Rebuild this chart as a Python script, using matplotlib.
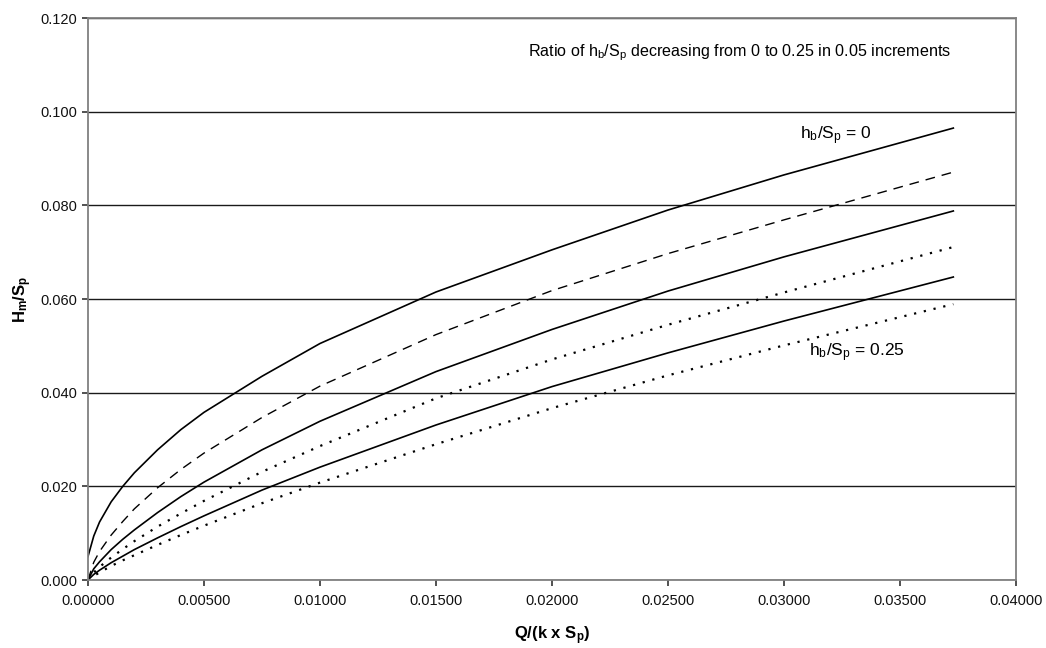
import numpy as np
import matplotlib.pyplot as plt
from matplotlib.ticker import FormatStrFormatter, MultipleLocator

plt.rcParams['font.family'] = ['Liberation Sans', 'DejaVu Sans']
plt.rcParams['mathtext.fontset'] = 'custom'
plt.rcParams['mathtext.rm'] = 'Liberation Sans'
plt.rcParams['mathtext.it'] = 'Liberation Sans:italic'
plt.rcParams['mathtext.bf'] = 'Liberation Sans:bold'

# Q/(k x Sp) sample points
q = [0, 0.00025, 0.0005, 0.001, 0.0015, 0.002, 0.003, 0.004, 0.005,
     0.0075, 0.01, 0.015, 0.02, 0.025, 0.03, 0.0373]

# Hm/Sp for hb/Sp = 0, 0.05, 0.10, 0.15, 0.20, 0.25
h000 = [0.005, 0.0094, 0.0124, 0.0167, 0.0200, 0.0229, 0.0278, 0.0321, 0.0358,
        0.0435, 0.0505, 0.0615, 0.0705, 0.0790, 0.0865, 0.0965]
h005 = [0.0, 0.0038, 0.0061, 0.0096, 0.0125, 0.0152, 0.0197, 0.0236, 0.0271,
        0.0347, 0.0414, 0.0524, 0.0618, 0.0697, 0.0769, 0.0871]
h010 = [0.0, 0.0024, 0.0039, 0.0065, 0.0087, 0.0107, 0.0144, 0.0178, 0.0209,
        0.0278, 0.0339, 0.0445, 0.0535, 0.0617, 0.0690, 0.0788]
h015 = [0.0, 0.0016, 0.0028, 0.0048, 0.0066, 0.0083, 0.0114, 0.0142, 0.0169,
        0.0231, 0.0286, 0.0388, 0.0471, 0.0545, 0.0614, 0.0711]
h020 = [0.0, 0.0012, 0.0021, 0.0037, 0.0051, 0.0065, 0.0090, 0.0114, 0.0137,
        0.0192, 0.0241, 0.0331, 0.0413, 0.0485, 0.0553, 0.0647]
h025 = [0.0, 0.0009, 0.0016, 0.0030, 0.0042, 0.0053, 0.0075, 0.0096, 0.0116,
        0.0164, 0.0208, 0.0290, 0.0367, 0.0437, 0.0501, 0.0589]

fig = plt.figure(figsize=(10.46, 6.48), dpi=100)
ax = fig.add_axes([0.0841, 0.1049, 0.8872, 0.8673])

ax.plot(q, h000, color='black', lw=1.2, ls='-')
ax.plot(q, h005, color='black', lw=1.0, ls=(0, (7, 5)))
ax.plot(q, h010, color='black', lw=1.2, ls='-')
ax.plot(q, h015, color='black', lw=1.6, ls=(0, (1, 3.5)))
ax.plot(q, h020, color='black', lw=1.2, ls='-')
ax.plot(q, h025, color='black', lw=1.6, ls=(0, (1, 3.5)))

ax.set_xlim(0, 0.04)
ax.set_ylim(0, 0.12)
ax.xaxis.set_major_locator(MultipleLocator(0.005))
ax.yaxis.set_major_locator(MultipleLocator(0.02))
ax.xaxis.set_major_formatter(FormatStrFormatter('%.5f'))
ax.yaxis.set_major_formatter(FormatStrFormatter('%.3f'))

# horizontal gridlines only
ax.yaxis.grid(True, color='#1a1a1a', lw=1.0)
ax.set_axisbelow(True)

for s in ax.spines.values():
    s.set_color('#808080')
    s.set_linewidth(1.3)

ax.tick_params(axis='both', direction='out', length=4, width=1.2,
               color='#333333', labelsize=10.5, labelcolor='#111111')
ax.tick_params(axis='x', pad=6)

ax.set_xlabel(r'Q/(k x S$_\mathregular{p}$)', fontsize=12, fontweight='bold', labelpad=12)
ax.set_ylabel(r'H$_\mathregular{m}$/S$_\mathregular{p}$', fontsize=12, fontweight='bold', labelpad=5)

ax.text(0.01895, 0.1127,
        r'Ratio of h$_\mathregular{b}$/S$_\mathregular{p}$ decreasing from 0 to 0.25 in 0.05 increments',
        fontsize=11.6, va='center', ha='left')
ax.text(0.0307, 0.0948, r'h$_\mathregular{b}$/S$_\mathregular{p}$ = 0', fontsize=12.5, va='center', ha='left')
ax.text(0.0311, 0.0485, r'h$_\mathregular{b}$/S$_\mathregular{p}$ = 0.25', fontsize=12.5, va='center', ha='left')

plt.savefig('out.png', dpi=100)
